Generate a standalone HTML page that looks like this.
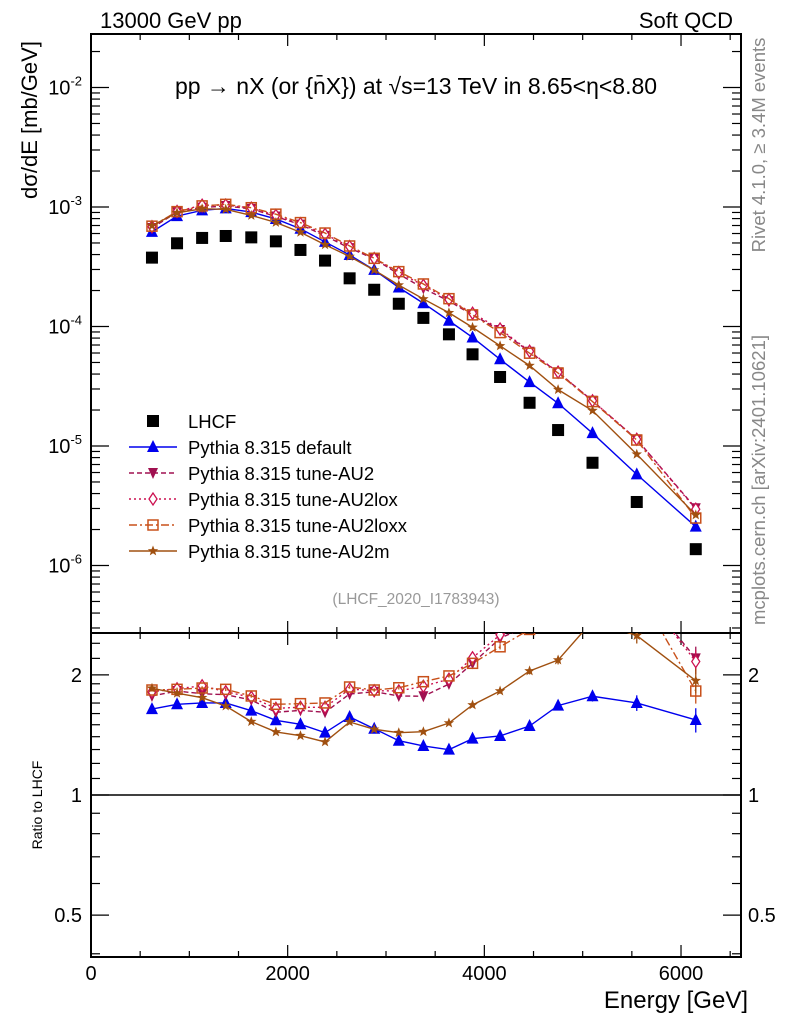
<!DOCTYPE html>
<html><head><meta charset="utf-8"><style>
html,body{margin:0;padding:0;background:#fff}
svg{display:block;font-family:"Liberation Sans",sans-serif}
</style></head><body>
<svg id="c" width="786" height="1024" viewBox="0 0 786 1024">
<text x="100" y="28" font-size="22">13000 GeV pp</text>
<text x="733" y="28" font-size="22" text-anchor="end">Soft QCD</text>
<text x="416" y="94" font-size="23" text-anchor="middle">pp → nX (or {n̄X}) at √s=13 TeV in 8.65&lt;η&lt;8.80</text>
<text transform="translate(37,120) rotate(-90)" font-size="22" text-anchor="middle">dσ/dE [mb/GeV]</text>
<text transform="translate(42,805) rotate(-90)" font-size="14" text-anchor="middle">Ratio to LHCF</text>
<text transform="translate(765,145) rotate(-90)" font-size="18.5" fill="#888" text-anchor="middle">Rivet 4.1.0, ≥ 3.4M events</text>
<text transform="translate(765,480) rotate(-90)" font-size="18.5" fill="#888" text-anchor="middle">mcplots.cern.ch [arXiv:2401.10621]</text>
<text x="416" y="604" font-size="15.5" fill="#999" text-anchor="middle">(LHCF_2020_I1783943)</text>
<text x="748" y="1008" font-size="24" text-anchor="end">Energy [GeV]</text>
<g id="plot"></g>
</svg>
<script>
const energies=[620,875,1130,1370,1630,1880,2130,2380,2630,2880,3130,3380,3640,3880,4160,4460,4750,5100,5550,6150];
const lhcf=[3.77e-4,4.97e-4,5.51e-4,5.72e-4,5.57e-4,5.16e-4,4.37e-4,3.56e-4,2.53e-4,2.03e-4,1.55e-4,1.18e-4,8.6e-5,5.85e-5,3.78e-5,2.30e-5,1.36e-5,7.24e-6,3.40e-6,1.37e-6];
const ratioDefault=[1.642,1.688,1.701,1.701,1.627,1.539,1.504,1.433,1.569,1.466,1.368,1.327,1.299,1.384,1.406,1.489,1.675,1.768,1.701,1.542];
const ratioAU2=[1.771,1.822,1.794,1.784,1.730,1.612,1.630,1.612,1.791,1.815,1.771,1.768,1.897,2.138,2.47,2.67,3.04,3.3,3.34,2.2];
const ratioAU2lox=[1.815,1.846,1.878,1.815,1.757,1.649,1.659,1.659,1.843,1.825,1.823,1.873,1.951,2.208,2.52,2.7,3.05,3.3,3.35,2.16];
const ratioAU2loxx=[1.833,1.840,1.854,1.840,1.771,1.688,1.694,1.701,1.865,1.833,1.857,1.923,1.988,2.138,2.352,2.6,3.0,3.25,3.3,1.822];
const ratioAU2m=[1.851,1.799,1.753,1.671,1.527,1.439,1.408,1.358,1.524,1.461,1.433,1.441,1.515,1.681,1.822,2.046,2.179,2.73,2.51,1.934];
const relErr=[0.01,0.01,0.01,0.01,0.01,0.01,0.01,0.01,0.01,0.01,0.01,0.01,0.01,0.012,0.015,0.02,0.025,0.03,0.045,0.07];
const xTicks=[0,2000,4000,6000];
const yTicksMain=[-6,-5,-4,-3,-2];
const ratioTicks=[0.5,1,2];

const NS="http://www.w3.org/2000/svg";
const L=91,R=741,T=34,MB=633,RB=957;
const X=v=>L+(v/6610)*(R-L);
const Y=v=>207-(Math.log10(v)+3)*119.5;
const YR=v=>795-Math.log10(v)*399;
const g=document.getElementById('plot');
function el(tag,attrs,parent){const e=document.createElementNS(NS,tag);for(const k in attrs)e.setAttribute(k,attrs[k]);(parent||g).appendChild(e);return e;}

const defs=el('defs',{});
const c1=el('clipPath',{id:'cm'},defs);el('rect',{x:L,y:T,width:R-L,height:MB-T},c1);
const c2=el('clipPath',{id:'cr'},defs);el('rect',{x:L,y:MB,width:R-L,height:RB-MB},c2);

const f1=el('rect',{x:L,y:T,width:R-L,height:MB-T,fill:'none',stroke:'#000','stroke-width':2});


const f2=el('rect',{x:L,y:MB,width:R-L,height:RB-MB,fill:'none',stroke:'#000','stroke-width':2});


const one=el('line',{x1:L,x2:R,y1:YR(1),y2:YR(1),stroke:'#000','stroke-width':1.5});



for(let v=0;v<=6500;v+=500){const maj=v%2000===0;const len=maj?12:6;const x=X(v);
 for(const [y0,dir] of [[T,1],[MB,-1],[MB,1],[RB,-1]]) el('line',{x1:x,x2:x,y1:y0,y2:y0+dir*len,stroke:'#000','stroke-width':1.2});}
xTicks.forEach(v=>{const t=el('text',{x:X(v),y:980,'font-size':20,'text-anchor':'middle'});t.textContent=v;
 
 });
for(let e=-7;e<=-2;e++){for(let m=1;m<10;m++){const v=m*Math.pow(10,e);const y=Y(v);if(y<T||y>MB)continue;const len=m===1?18:9;
 el('line',{x1:L,x2:L+len,y1:y,y2:y,stroke:'#000','stroke-width':1.2});el('line',{x1:R,x2:R-len,y1:y,y2:y,stroke:'#000','stroke-width':1.2});}}
yTicksMain.forEach(e=>{const t=el('text',{x:82,y:Y(Math.pow(10,e))+7,'font-size':20,'text-anchor':'end'});
 t.innerHTML='10<tspan dy="-9" font-size="13">'+e+'</tspan>';
 
 });
for(const v of [0.4,0.5,0.6,0.7,0.8,0.9,1,1.1,1.2,1.3,1.4,1.5,1.6,1.7,1.8,1.9,2,2.2,2.4]){const y=YR(v);if(y<MB||y>RB)continue;const len=(v===0.5||v===1||v===2)?18:9;
 el('line',{x1:L,x2:L+len,y1:y,y2:y,stroke:'#000','stroke-width':1.2});el('line',{x1:R,x2:R-len,y1:y,y2:y,stroke:'#000','stroke-width':1.2});}
ratioTicks.forEach(v=>{const y=YR(v)+7;
 const a=el('text',{x:82,y:y,'font-size':20,'text-anchor':'end'});a.textContent=v;
 
 
 const b=el('text',{x:748,y:y,'font-size':20});b.textContent=v;
 
 });

function marker(type,x,y,col,parent){
 const s=6;
 if(type==='sq')return el('rect',{x:x-6,y:y-6,width:12,height:12,fill:'#000'},parent);
 if(type==='tri')return el('polygon',{points:`${x},${y-s-1} ${x-s},${y+s-1} ${x+s},${y+s-1}`,fill:col},parent);
 if(type==='dtri')return el('polygon',{points:`${x},${y+s} ${x-s+1},${y-s+1} ${x+s-1},${y-s+1}`,fill:col},parent);
 if(type==='dia')return el('polygon',{points:`${x},${y-6} ${x-4},${y} ${x},${y+6} ${x+4},${y}`,fill:'#fff',stroke:col,'stroke-width':1.3},parent);
 if(type==='osq')return el('rect',{x:x-5,y:y-5,width:10,height:10,fill:'none',stroke:col,'stroke-width':1.5},parent);
 if(type==='star'){let p=[];for(let i=0;i<10;i++){const r=i%2?2.3:5.5;const a=-Math.PI/2+i*Math.PI/5;p.push((x+r*Math.cos(a)).toFixed(1)+','+(y+r*Math.sin(a)).toFixed(1));}
  return el('polygon',{points:p.join(' '),fill:col},parent);}
}

const series=[
 {name:'default',ratio:ratioDefault,col:'#0000ee',dash:'',m:'tri',label:'Pythia 8.315 default'},
 {name:'au2',ratio:ratioAU2,col:'#a01050',dash:'5,3',m:'dtri',label:'Pythia 8.315 tune-AU2'},
 {name:'au2lox',ratio:ratioAU2lox,col:'#cc1050',dash:'2,3',m:'dia',label:'Pythia 8.315 tune-AU2lox'},
 {name:'au2loxx',ratio:ratioAU2loxx,col:'#c8501a',dash:'8,3,2,3',m:'osq',label:'Pythia 8.315 tune-AU2loxx'},
 {name:'au2m',ratio:ratioAU2m,col:'#a05010',dash:'',m:'star',label:'Pythia 8.315 tune-AU2m'}
];

const gm=el('g',{'clip-path':'url(#cm)'});


const gr=el('g',{'clip-path':'url(#cr)'});



series.forEach(s=>{
 const vals=s.ratio.map((r,i)=>r*lhcf[i]);
 const pm=el('polyline',{points:vals.map((v,i)=>X(energies[i])+','+Y(v)).join(' '),fill:'none',stroke:s.col,'stroke-width':1.4,'stroke-dasharray':s.dash},gm);
 
 
 vals.forEach((v,i)=>{const mk=marker(s.m,X(energies[i]),Y(v),s.col,gm);
  
  });
 const pr=el('polyline',{points:s.ratio.map((r,i)=>X(energies[i])+','+YR(r)).join(' '),fill:'none',stroke:s.col,'stroke-width':1.4,'stroke-dasharray':s.dash},gr);
 
 
 s.ratio.forEach((r,i)=>{const x=X(energies[i]);
  const eb=el('line',{x1:x,x2:x,y1:YR(r*(1+relErr[i])),y2:YR(r*(1-relErr[i])),stroke:s.col,'stroke-width':1.3},gr);
  
  
  const mk=marker(s.m,x,YR(r),s.col,gr);
  
  });
});
lhcf.forEach((v,i)=>{const mk=marker('sq',X(energies[i]),Y(v),'#000',gm);
 
 });

const lg=el('g',{});


const rows=[{m:'sq',col:'#000',dash:null,label:'LHCF'}].concat(series);
rows.forEach((s,k)=>{const y=421+k*26;
 const row=el('g',{},lg);
 
 
 if(s.dash!==null)el('line',{x1:129,x2:177,y1:y,y2:y,stroke:s.col,'stroke-width':1.4,'stroke-dasharray':s.dash},row);
 marker(s.m,153,y,s.col,row);
 const t=el('text',{x:188,y:y+7,'font-size':18.5},row);t.textContent=s.label;});
</script>
</body></html>
